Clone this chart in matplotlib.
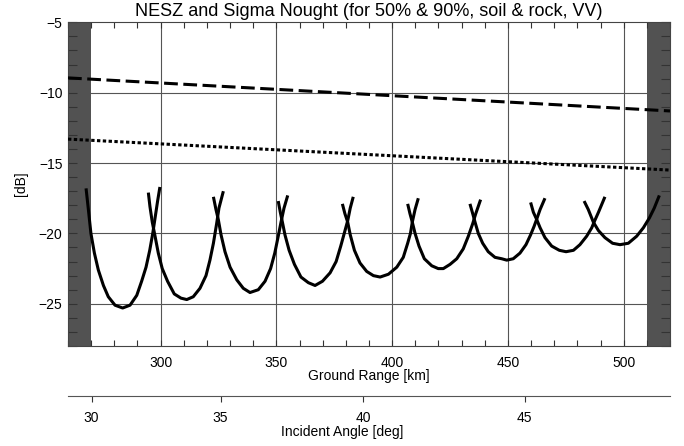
import matplotlib
matplotlib.use('Agg')
import matplotlib.pyplot as plt
from matplotlib.ticker import MultipleLocator

plt.rcParams['font.family'] = ['Liberation Sans', 'DejaVu Sans']

# ground range [km] and NESZ [dB] of each beam
beam_range = [
    [267.8, 268.8, 269.9, 271.4, 273.1, 275.3, 277.4, 280.3, 283.6, 286.8, 289.7, 291.8, 293.7, 295.3, 296.6, 297.7, 298.7, 299.7],
    [294.7, 295.4, 296.4, 297.6, 299.0, 300.7, 303.0, 305.9, 308.8, 311.3, 314.1, 317.0, 319.6, 321.3, 322.8, 324.2, 325.2, 327.1],
    [322.8, 323.9, 324.9, 326.1, 327.8, 330.0, 332.9, 335.7, 338.6, 342.2, 345.1, 347.5, 349.3, 350.8, 352.0, 353.3, 354.9],
    [350.8, 351.7, 352.6, 353.7, 355.5, 357.8, 360.6, 363.8, 366.7, 369.9, 373.2, 375.8, 377.8, 379.3, 380.8, 381.9, 383.2],
    [378.5, 379.6, 380.8, 381.9, 383.7, 386.1, 389.0, 391.9, 394.8, 398.4, 402.0, 404.8, 406.7, 407.9, 408.7, 409.9, 411.3],
    [406.7, 407.7, 408.7, 409.9, 411.6, 413.9, 417.1, 419.9, 422.1, 425.0, 427.9, 430.7, 432.9, 434.8, 436.1, 438.2],
    [433.6, 434.8, 435.8, 437.2, 439.1, 441.5, 444.4, 447.3, 449.5, 452.3, 455.2, 457.8, 459.8, 461.3, 462.4, 463.9, 466.0],
    [459.8, 461.0, 462.4, 463.9, 466.0, 468.9, 472.2, 475.1, 478.3, 481.1, 484.0, 486.2, 487.2, 489.1, 491.9],
    [482.9, 484.7, 486.9, 489.1, 491.9, 495.2, 498.4, 502.0, 505.6, 508.5, 511.1, 513.2, 515.4],
]
beam_nesz = [
    [-16.8, -18.3, -20.0, -21.4, -22.6, -23.7, -24.5, -25.1, -25.3, -25.1, -24.4, -23.4, -22.4, -21.2, -20.0, -18.8, -17.7, -16.7],
    [-17.1, -18.1, -19.2, -20.2, -21.4, -22.5, -23.4, -24.3, -24.6, -24.7, -24.5, -23.9, -23.0, -21.9, -20.7, -19.3, -18.2, -17.0],
    [-17.4, -18.3, -19.0, -20.1, -21.3, -22.4, -23.3, -23.9, -24.2, -24.0, -23.4, -22.5, -21.4, -20.2, -19.2, -18.2, -17.3],
    [-17.7, -18.5, -19.2, -20.1, -21.2, -22.2, -23.1, -23.5, -23.7, -23.4, -22.8, -22.0, -20.9, -20.0, -19.1, -18.2, -17.4],
    [-17.9, -18.6, -19.2, -20.1, -21.2, -22.1, -22.7, -23.0, -23.1, -22.9, -22.4, -21.7, -20.7, -20.0, -19.2, -18.3, -17.5],
    [-17.9, -18.6, -19.2, -20.0, -20.9, -21.8, -22.3, -22.5, -22.5, -22.2, -21.8, -21.1, -20.2, -19.3, -18.6, -17.6],
    [-17.9, -18.6, -19.2, -20.0, -20.7, -21.3, -21.7, -21.8, -21.9, -21.8, -21.4, -20.8, -20.1, -19.5, -19.0, -18.3, -17.5],
    [-17.8, -18.5, -19.0, -19.6, -20.3, -20.9, -21.2, -21.3, -21.2, -20.8, -20.2, -19.6, -19.2, -18.5, -17.4],
    [-17.7, -18.3, -19.2, -19.8, -20.3, -20.7, -20.8, -20.7, -20.2, -19.6, -18.9, -18.2, -17.3],
]

# sigma nought lines
sigma90_range = [260, 520]
sigma90_db = [-8.95, -11.3]
sigma50_range = [260, 449.4, 520]
sigma50_db = [-13.3, -14.9, -15.5]

# incident angle ticks and where they sit in ground range
angle_labels = ['30', '35', '40', '45']
angle_pos = [270.2, 325.9, 387.5, 457.2]

xmin, xmax = 260, 520
ymin, ymax = -28, -5
grid_x = [300, 350, 400, 450, 500]
grid_y = [-25, -20, -15, -10]

fig = plt.figure(figsize=(6.84, 4.46), dpi=100)
ax = fig.add_axes([68/684, 1-346/446, 602/684, 323.7/446])

# grid first, then the grey edge bands over it
for gx in grid_x:
    ax.axvline(gx, color='#555555', lw=0.8, zorder=1)
for gy in grid_y:
    ax.axhline(gy, color='#555555', lw=0.8, zorder=1)
ax.axvspan(260, 270, color='#525252', lw=0, zorder=1.2)
ax.axvspan(510, 520, color='#525252', lw=0, zorder=1.2)

for r, n in zip(beam_range, beam_nesz):
    ax.plot(r, n, color='black', lw=2.2, solid_capstyle='butt',
            solid_joinstyle='round', zorder=3)
ax.plot(sigma90_range, sigma90_db, color='black', lw=2.2, dashes=(4.5, 1.8), zorder=3)
ax.plot(sigma50_range, sigma50_db, color='black', lw=2.2, dashes=(1.1, 0.8), zorder=3)

ax.set_xlim(xmin, xmax)
ax.set_ylim(ymin, ymax)
ax.set_xticks(grid_x)
ax.set_yticks([-25, -20, -15, -10, -5])
ax.xaxis.set_minor_locator(MultipleLocator(10))
ax.yaxis.set_minor_locator(MultipleLocator(1))
ax.tick_params(which='both', direction='in', top=True, right=True,
               color='#333333', width=0.8, labelsize=10)
ax.tick_params(axis='x', which='both', length=4.3, pad=7)
ax.tick_params(axis='y', which='both', length=6.5, pad=4)
for s in ax.spines.values():
    s.set_color('#444444')
    s.set_linewidth(0.8)

ax.set_xlabel('Ground Range [km]', fontsize=10, va='center')
ax.xaxis.set_label_coords(0.5, -30/323.7)
ax.set_ylabel('[dB]', fontsize=10, va='center')
ax.yaxis.set_label_coords(-47/602, 0.5)

fig.text(369/684, 1-11/446, 'NESZ and Sigma Nought (for 50% & 90%, soil & rock, VV)',
         ha='center', va='center', fontsize=13)

# incident angle axis underneath
ax2 = fig.add_axes([68/684, 1-395.7/446, 602/684, 0.0001])
ax2.set_xlim(xmin, xmax)
ax2.set_yticks([])
ax2.set_xticks(angle_pos)
ax2.set_xticklabels(angle_labels)
ax2.patch.set_visible(False)
for side in ['top', 'left', 'right']:
    ax2.spines[side].set_visible(False)
ax2.spines['bottom'].set_color('#555555')
ax2.spines['bottom'].set_linewidth(0.8)
ax2.tick_params(axis='x', direction='out', length=4.3, width=0.8,
                color='#333333', pad=7, labelsize=10)
ax2.set_xlabel('Incident Angle [deg]', fontsize=10, va='center')
ax2.xaxis.set_label_coords(0.5, 1-432.3/446, transform=fig.transFigure)

fig.savefig('out.png', dpi=100)
